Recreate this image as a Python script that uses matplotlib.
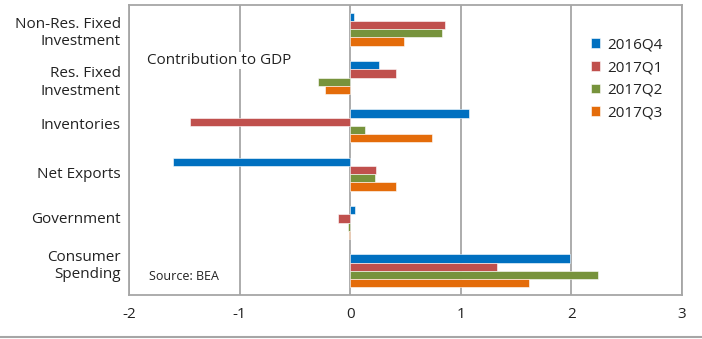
import matplotlib
matplotlib.use("Agg")
import matplotlib.pyplot as plt
import numpy as np
from matplotlib.lines import Line2D

plt.rcParams['font.family'] = ['Open Sans', 'DejaVu Sans']

categories = ["Non-Res. Fixed\nInvestment", "Res. Fixed\nInvestment", "Inventories",
              "Net Exports", "Government", "Consumer\nSpending"]
quarters = ["2016Q4", "2017Q1", "2017Q2", "2017Q3"]
q2016q4 = [0.03, 0.26, 1.07, -1.60, 0.04, 1.99]
q2017q1 = [0.86, 0.41, -1.45, 0.23, -0.11, 1.33]
q2017q2 = [0.83, -0.29, 0.13, 0.22, -0.02, 2.24]
q2017q3 = [0.49, -0.23, 0.74, 0.41, -0.015, 1.62]
series = [q2016q4, q2017q1, q2017q2, q2017q3]
colors = ["#0070C0", "#C0504D", "#77933C", "#E46C0A"]

fig = plt.figure(figsize=(7.02, 3.39), dpi=100)
ax = fig.add_axes([129/702, 44/339, 553/702, 290/339])

y = np.arange(len(categories))
h = 0.17
for i, (vals, c, lab) in enumerate(zip(series, colors, quarters)):
    ax.barh(y + (i - 1.5) * h, vals, height=h, color=c, label=lab,
            edgecolor="white", linewidth=0.4, zorder=3)

ax.set_xlim(-2, 3)
ax.set_ylim(len(categories) - 0.5, -0.5)
ax.set_xticks([-2, -1, 0, 1, 2, 3])
ax.set_xticklabels(["-2", "-1", "0", "1", "2", "3"])
# excel places the category labels a little off the group centres
label_shift = np.array([0.02, 0.04, -0.04, -0.04, -0.10, -0.17])
ax.set_yticks(y + label_shift)
ax.set_yticklabels(categories, fontsize=11, color="#222222", linespacing=1.2)
ax.tick_params(axis='x', labelsize=11, length=0, pad=9, colors="#222222")
ax.tick_params(axis='y', length=0, pad=6)
ax.grid(axis='x', color="#a6a6a6", linewidth=1.3, zorder=0)
for s in ax.spines.values():
    s.set_color("#a6a6a6")
    s.set_linewidth(1.3)

ax.text(-1.84, 0.65, "Contribution to GDP", fontsize=11, color="#222222",
        va="center", ha="left", zorder=4,
        bbox=dict(facecolor="white", edgecolor="none", pad=1))
ax.text(-1.82, 5.12, "Source: BEA", fontsize=9, color="#222222",
        va="center", ha="left", zorder=4)

leg = ax.legend(loc="upper left", bbox_to_anchor=(0.81, 0.935), frameon=False,
                fontsize=11, handlelength=0.6, handleheight=0.6,
                handletextpad=0.5, labelspacing=0.5)
for t in leg.get_texts():
    t.set_color("#222222")

fig.add_artist(Line2D([0, 1], [2.5/339, 2.5/339], color="#a6a6a6", linewidth=1.5))

fig.savefig("out.png", dpi=100)
